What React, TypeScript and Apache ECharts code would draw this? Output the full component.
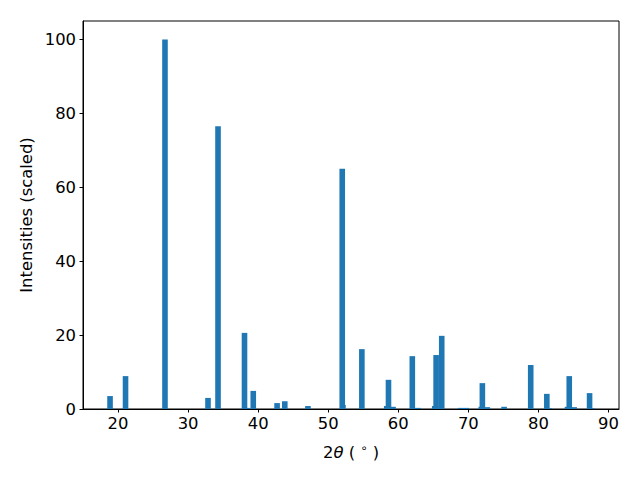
import React, { useEffect, useRef } from "react";
import * as echarts from "echarts";

const twoTheta = [
  18.86, 21.07, 26.7, 32.84, 34.27, 38.05, 38.4, 39.3, 42.7, 43.8, 47.1,
  52.1, 52.0, 54.8, 58.35, 59.25, 58.6, 62.8, 62.0, 65.2, 65.4, 66.2, 68.9,
  69.7, 71.85, 72.7, 72.0, 75.1, 78.9, 81.55, 81.2, 84.15, 85.1, 84.4, 87.6,
  87.3,
];
const intensities = [
  3.5, 8.9, 100, 3.0, 76.5, 20.6, 0.3, 4.9, 1.6, 2.1, 0.8, 1.1, 65.0, 16.2,
  0.8, 0.6, 7.9, 0.3, 14.3, 0.8, 14.6, 19.8, 0.3, 0.3, 0.6, 0.5, 7.0, 0.6,
  11.9, 0.2, 4.1, 0.6, 0.5, 8.9, 0.2, 4.3,
];
const xTicks = [20, 30, 40, 50, 60, 70, 80, 90];
const yTicks = [0, 20, 40, 60, 80, 100];

const FONT = "DejaVu Sans";
const FS = 16.4;

export default function App() {
  const ref = useRef<HTMLDivElement>(null);
  useEffect(() => {
    document.body.style.margin = "0";
    const chart = echarts.init(ref.current!, null, { renderer: "svg" });
    const data = twoTheta.map((x, i) => [x, intensities[i]]);
    chart.setOption({
      animation: false,
      grid: {
        left: 83,
        top: 21,
        right: 21,
        bottom: 71,
        show: true,
        borderColor: "#000",
        borderWidth: 1,
        containLabel: false,
      },
      xAxis: {
        type: "value",
        min: 15,
        max: 91.5,
        splitLine: { show: false },
        axisLine: { show: true, lineStyle: { color: "#000", width: 1 } },
        axisTick: {
          show: true,
          length: 3.5,
          lineStyle: { color: "#000" },
          customValues: xTicks,
        },
        axisLabel: {
          color: "#000",
          fontFamily: FONT,
          fontSize: FS,
          margin: 6,
          customValues: xTicks,
        },
      },
      yAxis: {
        type: "value",
        min: 0,
        max: 105,
        splitLine: { show: false },
        axisLine: { show: true, lineStyle: { color: "#000", width: 1 } },
        axisTick: {
          show: true,
          length: 3.5,
          lineStyle: { color: "#000" },
          customValues: yTicks,
        },
        axisLabel: {
          color: "#000",
          fontFamily: FONT,
          fontSize: FS,
          margin: 7,
          customValues: yTicks,
        },
      },
      series: [
        {
          type: "bar",
          data,
          barWidth: 5.6,
          itemStyle: { color: "#1f77b4" },
        },
      ],
      graphic: [
        {
          type: "text",
          x: 351,
          y: 452,
          style: {
            text: "2{i|θ} ( {s|∘} )",
            fontFamily: FONT,
            fontSize: FS,
            fill: "#000",
            align: "center",
            verticalAlign: "middle",
            rich: {
              i: { fontFamily: FONT, fontSize: FS, fontStyle: "italic", fill: "#000" },
              s: { fontFamily: FONT, fontSize: 11.5, fill: "#000", padding: [0, 0, 9, 0] },
            },
          },
        },
        {
          type: "text",
          x: 26,
          y: 215,
          rotation: Math.PI / 2,
          style: {
            text: "Intensities (scaled)",
            fontFamily: FONT,
            fontSize: FS,
            fill: "#000",
            align: "center",
            verticalAlign: "middle",
          },
        },
      ],
    });
    return () => chart.dispose();
  }, []);
  return <div ref={ref} style={{ width: 640, height: 480 }} />;
}
